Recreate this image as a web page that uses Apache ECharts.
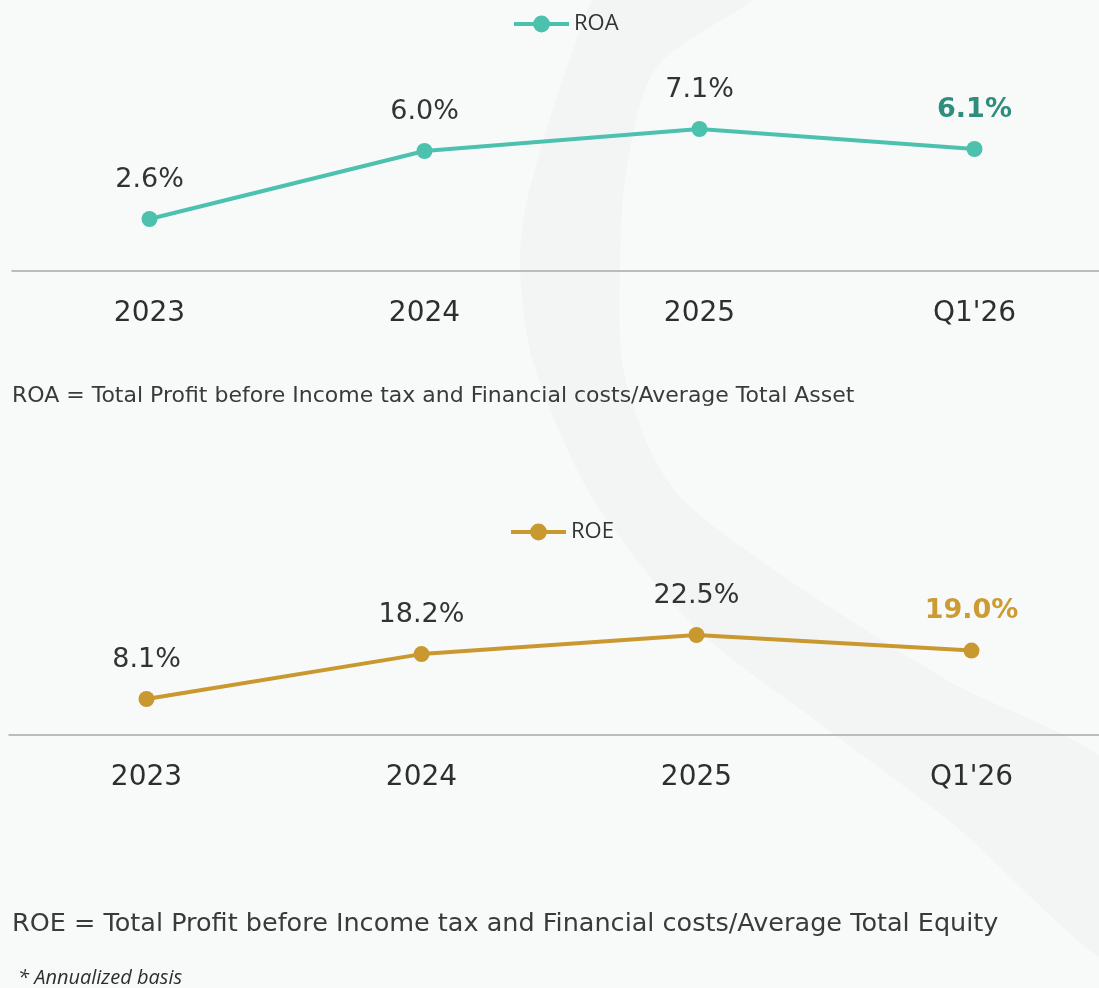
<!DOCTYPE html>
<html>
<head>
    <meta charset="UTF-8">
    <style>
        html, body { margin: 0; padding: 0; background: #f8faf9; overflow: hidden; }
        #container { width: 1130px; height: 988px; }
    </style>
</head>
<body>
<div id="container"></div>

<script src="https://cdn.jsdelivr.net/npm/echarts@6/dist/echarts.min.js"></script>
<script type="text/javascript">
    // data
    var categories = ['2023', '2024', '2025', "Q1'26"];
    var roaValues = [2.6, 6.0, 7.1, 6.1];
    var roeValues = [8.1, 18.2, 22.5, 19.0];

    var roaColor = '#4cc1ae';
    var roeColor = '#c9982f';

    // last point gets a bold coloured label
    function buildData(values, hiColor) {
        return values.map(function (v, i) {
            if (i === values.length - 1) {
                return {
                    value: v,
                    label: { color: hiColor, fontWeight: 'bold' }
                };
            }
            return v;
        });
    }

    var dom = document.getElementById('container');
    var myChart = echarts.init(dom, null, { renderer: 'canvas' });

    var labelStyle = {
        show: true,
        position: 'top',
        distance: 18,
        fontFamily: 'DejaVu Sans',
        fontSize: 27,
        color: '#333333',
        formatter: function (p) { return p.value.toFixed(1) + '%'; }
    };

    var xAxisBase = {
        type: 'category',
        data: categories,
        boundaryGap: true,
        axisLine: { lineStyle: { color: '#a8a8a8', width: 1.5 } },
        axisTick: { show: false },
        axisLabel: {
            margin: 29,
            fontFamily: 'DejaVu Sans',
            fontSize: 28,
            color: '#2e2e2e'
        }
    };

    var legendBase = {
        itemWidth: 55,
        itemHeight: 21,
        itemGap: 4,
        padding: 0,
        lineStyle: { width: 4 },
        textStyle: { fontFamily: 'Open Sans', fontSize: 22, color: '#333333' }
    };

    var option = {
        backgroundColor: '#f8faf9',
        animation: false,
        graphic: [
            {
                type: 'polygon',
                z: -10,
                silent: true,
                shape: {
                    smooth: 0.3,
                    points: [
                        [605, -10], [573, 50], [527, 200], [520, 267], [530, 350],
                        [560, 433], [600, 510], [698, 630], [822, 725], [947, 819], [1130, 970],
                        [1130, 785], [947, 680], [850, 620], [760, 560], [683, 500],
                        [650, 450], [623, 367], [620, 267], [627, 167], [657, 67], [760, -10]
                    ]
                },
                style: { fill: '#f2f5f4' }
            },
            {
                type: 'text',
                left: 12,
                top: 385,
                style: {
                    text: 'ROA = Total Profit before Income tax and Financial costs/Average Total Asset',
                    fontFamily: 'DejaVu Sans',
                    fontSize: 22,
                    fill: '#3a3a3a'
                }
            },
            {
                type: 'text',
                left: 12,
                top: 911,
                style: {
                    text: 'ROE = Total Profit before Income tax and Financial costs/Average Total Equity',
                    fontFamily: 'DejaVu Sans',
                    fontSize: 25.5,
                    fill: '#3a3a3a'
                }
            },
            {
                type: 'text',
                left: 18,
                top: 968,
                style: {
                    text: '* Annualized basis',
                    fontFamily: 'Open Sans',
                    fontStyle: 'italic',
                    fontSize: 20,
                    fill: '#2e2e2e'
                }
            }
        ],
        legend: [
            Object.assign({ data: ['ROA'], left: 512, top: 13 }, legendBase),
            Object.assign({ data: ['ROE'], left: 509, top: 521 }, legendBase)
        ],
        grid: [
            { left: 12, top: 71, width: 1100, height: 200 },
            { left: 9, top: 535, width: 1100, height: 200 }
        ],
        xAxis: [
            Object.assign({ gridIndex: 0 }, xAxisBase),
            Object.assign({ gridIndex: 1 }, xAxisBase)
        ],
        yAxis: [
            { gridIndex: 0, type: 'value', min: 0, max: 10, show: false },
            { gridIndex: 1, type: 'value', min: 0, max: 45, show: false }
        ],
        series: [
            {
                name: 'ROA',
                type: 'line',
                xAxisIndex: 0,
                yAxisIndex: 0,
                data: buildData(roaValues, '#2f8d7d'),
                symbol: 'circle',
                symbolSize: 16,
                color: roaColor,
                lineStyle: { width: 4, color: roaColor },
                label: labelStyle
            },
            {
                name: 'ROE',
                type: 'line',
                xAxisIndex: 1,
                yAxisIndex: 1,
                data: buildData(roeValues, '#cc9c33'),
                symbol: 'circle',
                symbolSize: 16,
                color: roeColor,
                lineStyle: { width: 4, color: roeColor },
                label: labelStyle
            }
        ]
    };

    myChart.setOption(option);
    window.addEventListener('resize', myChart.resize);
</script>
</body>
</html>
